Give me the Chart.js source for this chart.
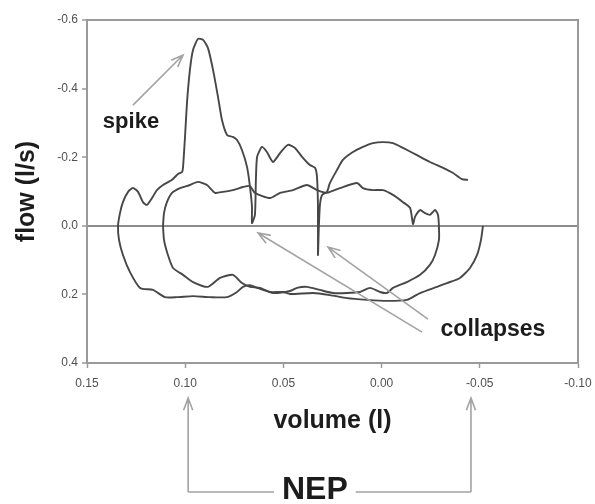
<!DOCTYPE html>
<html>
<head>
<meta charset="utf-8">
<script src="https://cdn.jsdelivr.net/npm/chart.js@4.4.1/dist/chart.umd.min.js"></script>
<style>
  html, body { margin: 0; padding: 0; background: #fff; }
</style>
</head>
<body>
<canvas id="flowChart" width="595" height="504"></canvas>
<script>
const volumeTicks = [0.15, 0.10, 0.05, 0.00, -0.05, -0.10];
const flowTicks = [-0.6, -0.4, -0.2, 0.0, 0.2, 0.4];

// outer breath: starts at NEP (-0.05), inspiration along the bottom, expiration with spike + two collapses
const outerVolume = [
  -0.0516, -0.0506, -0.0486, -0.0450, -0.0399, -0.0333, -0.0282, -0.0196, -0.0129, -0.0027,
  0.0074, 0.0176, 0.0263, 0.0349, 0.0466, 0.0502, 0.0568, 0.0634, 0.0670, 0.0706,
  0.0736, 0.0787, 0.0874, 0.0960, 0.1042, 0.1103, 0.1164, 0.1230, 0.1281, 0.1317,
  0.1337, 0.1342, 0.1332, 0.1317, 0.1291, 0.1266, 0.1240, 0.1215, 0.1195, 0.1169,
  0.1144, 0.1113, 0.1067, 0.1037, 0.1016, 0.1011, 0.1001, 0.0991, 0.0976, 0.0960,
  0.0935, 0.0909, 0.0884, 0.0858, 0.0833, 0.0813, 0.0787, 0.0757, 0.0736, 0.0711,
  0.0685, 0.0670, 0.0660, 0.0660, 0.0645, 0.0640, 0.0634, 0.0609, 0.0584, 0.0553,
  0.0517, 0.0477, 0.0441, 0.0405, 0.0365, 0.0339, 0.0329, 0.0324, 0.0324, 0.0320,
  0.0314, 0.0303, 0.0278, 0.0263, 0.0227, 0.0197, 0.0146, 0.0095, 0.0044, -0.0007,
  -0.0058, -0.0109, -0.0180, -0.0246, -0.0313, -0.0364, -0.0409, -0.0440
];
const outerFlow = [
  0.000, 0.041, 0.085, 0.123, 0.152, 0.167, 0.178, 0.196, 0.216, 0.219,
  0.216, 0.211, 0.202, 0.196, 0.199, 0.193, 0.193, 0.181, 0.173, 0.178,
  0.193, 0.208, 0.208, 0.205, 0.208, 0.208, 0.187, 0.181, 0.135, 0.085,
  0.041, 0.000, -0.037, -0.069, -0.099, -0.110, -0.099, -0.069, -0.061, -0.081,
  -0.104, -0.119, -0.134, -0.151, -0.157, -0.171, -0.259, -0.358, -0.454, -0.513,
  -0.545, -0.542, -0.518, -0.454, -0.376, -0.309, -0.265, -0.259, -0.250, -0.221,
  -0.171, -0.113, -0.055, -0.008, -0.032, -0.134, -0.201, -0.230, -0.215, -0.186,
  -0.212, -0.236, -0.227, -0.201, -0.177, -0.169, -0.142, -0.055, 0.085, 0.012,
  -0.061, -0.090, -0.099, -0.125, -0.163, -0.192, -0.215, -0.230, -0.241, -0.244,
  -0.241, -0.227, -0.206, -0.186, -0.169, -0.154, -0.136, -0.134
];

// inner (closed) breath
const innerVolume = [
  0.1113, 0.1108, 0.1093, 0.1067, 0.1026, 0.0976, 0.0935, 0.0889, 0.0848, 0.0808,
  0.0757, 0.0706, 0.0670, 0.0645, 0.0568, 0.0517, 0.0451, 0.0380, 0.0329, 0.0278,
  0.0212, 0.0125, 0.0095, 0.0044, -0.0007, -0.0058, -0.0109, -0.0145, -0.0160, -0.0170,
  -0.0196, -0.0221, -0.0246, -0.0272, -0.0287, -0.0292, -0.0292, -0.0272, -0.0246, -0.0196,
  -0.0129, -0.0058, -0.0027, 0.0008, 0.0059, 0.0110, 0.0176, 0.0247, 0.0314, 0.0380,
  0.0431, 0.0466, 0.0553, 0.0619, 0.0670, 0.0711, 0.0757, 0.0823, 0.0884, 0.0960,
  0.1011, 0.1062, 0.1088, 0.1108, 0.1113
];
const innerFlow = [
  0.000, -0.037, -0.069, -0.096, -0.110, -0.119, -0.128, -0.119, -0.096, -0.099,
  -0.104, -0.113, -0.116, -0.096, -0.081, -0.096, -0.104, -0.119, -0.104, -0.096,
  -0.110, -0.125, -0.110, -0.104, -0.104, -0.090, -0.069, -0.052, -0.005, -0.026,
  -0.046, -0.037, -0.032, -0.046, -0.032, 0.003, 0.041, 0.085, 0.114, 0.143,
  0.164, 0.181, 0.196, 0.193, 0.181, 0.193, 0.196, 0.196, 0.187, 0.178,
  0.181, 0.190, 0.196, 0.181, 0.178, 0.167, 0.143, 0.152, 0.178, 0.164,
  0.143, 0.123, 0.085, 0.041, 0.000
];

// annotation anchors, in (volume, flow)
const spikeArrow = [[0.1266, -0.352], [0.1011, -0.498]];
const spikeLabel = [0.1276, -0.303];
const collapseArrows = [
  [[-0.0206, 0.310], [0.0629, 0.021]],
  [[-0.0236, 0.272], [0.0273, 0.062]]
];
const collapseLabel = [-0.0567, 0.304];
const nepVolumes = [0.0985, -0.0455];
const nepLabelVolume = 0.034;

const FONT = "'Liberation Sans', Arial, sans-serif";
Chart.defaults.font.family = FONT;

function toPoints(xs, ys) {
  return xs.map((x, i) => ({ x: x, y: ys[i] }));
}

function drawArrow(ctx, x1, y1, x2, y2) {
  const ang = Math.atan2(y2 - y1, x2 - x1);
  const head = 13, spread = 0.36;
  ctx.beginPath();
  ctx.moveTo(x1, y1);
  ctx.lineTo(x2, y2);
  ctx.moveTo(x2 - head * Math.cos(ang - spread), y2 - head * Math.sin(ang - spread));
  ctx.lineTo(x2, y2);
  ctx.lineTo(x2 - head * Math.cos(ang + spread), y2 - head * Math.sin(ang + spread));
  ctx.stroke();
}

const framePlugin = {
  id: 'frame',
  beforeDatasetsDraw(chart) {
    const { ctx, chartArea: a } = chart;
    ctx.save();
    ctx.strokeStyle = '#9a9a9a';
    ctx.lineWidth = 2;
    ctx.beginPath();
    ctx.moveTo(a.left, a.top);
    ctx.lineTo(a.right, a.top);
    ctx.lineTo(a.right, a.bottom);
    ctx.stroke();
    ctx.restore();
  }
};

const notesPlugin = {
  id: 'notes',
  afterDraw(chart) {
    const { ctx, chartArea: a } = chart;
    const xs = chart.scales.x, ys = chart.scales.y;
    const px = v => xs.getPixelForValue(v);
    const py = v => ys.getPixelForValue(v);

    ctx.save();
    ctx.strokeStyle = '#a3a3a3';
    ctx.lineWidth = 1.6;
    drawArrow(ctx, px(spikeArrow[0][0]), py(spikeArrow[0][1]), px(spikeArrow[1][0]), py(spikeArrow[1][1]));
    collapseArrows.forEach(([f, t]) => drawArrow(ctx, px(f[0]), py(f[1]), px(t[0]), py(t[1])));

    // NEP bracket below the axis
    const tipY = a.bottom + 35, baseY = a.bottom + 129;
    const nepX = px(nepLabelVolume);
    ctx.font = 'bold 32px ' + FONT;
    const half = ctx.measureText('NEP').width / 2 + 8;
    const lx = px(nepVolumes[0]), rx = px(nepVolumes[1]);
    drawArrow(ctx, lx, baseY, lx, tipY);
    drawArrow(ctx, rx, baseY, rx, tipY);
    ctx.beginPath();
    ctx.moveTo(lx, baseY); ctx.lineTo(nepX - half, baseY);
    ctx.moveTo(nepX + half, baseY); ctx.lineTo(rx, baseY);
    ctx.stroke();

    ctx.fillStyle = '#1c1c1c';
    ctx.textAlign = 'center';
    ctx.textBaseline = 'middle';
    ctx.fillText('NEP', nepX, baseY - 2);
    ctx.font = 'bold 22px ' + FONT;
    ctx.fillText('spike', px(spikeLabel[0]), py(spikeLabel[1]));
    ctx.font = 'bold 23px ' + FONT;
    ctx.fillText('collapses', px(collapseLabel[0]), py(collapseLabel[1]));
    ctx.restore();
  }
};

const lineStyle = {
  showLine: true,
  borderColor: '#474747',
  borderWidth: 1.9,
  pointRadius: 0,
  tension: 0.2,
  fill: false
};

new Chart(document.getElementById('flowChart'), {
  type: 'scatter',
  data: {
    datasets: [
      Object.assign({ label: 'outer', data: toPoints(outerVolume, outerFlow) }, lineStyle),
      Object.assign({ label: 'inner', data: toPoints(innerVolume, innerFlow) }, lineStyle)
    ]
  },
  options: {
    responsive: false,
    animation: false,
    layout: { padding: { left: 0, top: 20, right: 17, bottom: 0 } },
    plugins: { legend: { display: false }, tooltip: { enabled: false } },
    scales: {
      x: {
        type: 'linear',
        reverse: true,
        min: -0.10,
        max: 0.15,
        afterBuildTicks: s => { s.ticks = volumeTicks.map(v => ({ value: v })); },
        afterFit: s => { s.height = 141; s.paddingLeft = 0; s.paddingRight = 0; },
        ticks: { callback: v => v.toFixed(2), color: '#505050', font: { size: 12 }, padding: 8, maxRotation: 0, autoSkip: false },
        grid: { drawOnChartArea: false, tickLength: 5, tickColor: '#9a9a9a', tickWidth: 1.5 },
        border: { color: '#9a9a9a', width: 2 },
        title: { display: true, text: 'volume (l)', color: '#1c1c1c', font: { size: 25, weight: 'bold' }, padding: { top: 0, bottom: 68 } }
      },
      y: {
        type: 'linear',
        reverse: true,
        min: -0.6,
        max: 0.4,
        afterBuildTicks: s => { s.ticks = flowTicks.map(v => ({ value: v })); },
        afterFit: s => { s.width = 87; s.paddingTop = 0; s.paddingBottom = 0; },
        ticks: { callback: v => v.toFixed(1), color: '#505050', font: { size: 12 }, padding: 4 },
        grid: {
          color: c => (c.tick && Math.abs(c.tick.value) < 1e-9) ? '#8c8c8c' : 'rgba(0,0,0,0)',
          lineWidth: 2,
          tickLength: 5,
          tickColor: '#9a9a9a',
          tickWidth: 1.5
        },
        border: { color: '#9a9a9a', width: 2 },
        title: { display: true, text: 'flow (l/s)', color: '#1c1c1c', font: { size: 25, weight: 'bold' }, padding: { top: 12, bottom: 0 } }
      }
    }
  },
  plugins: [framePlugin, notesPlugin]
});
</script>
</body>
</html>
